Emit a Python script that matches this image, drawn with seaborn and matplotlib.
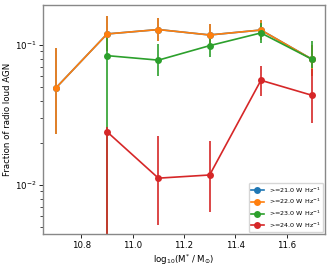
import numpy as np
import pandas as pd
import matplotlib
matplotlib.use("Agg")
import matplotlib.pyplot as plt
import seaborn as sns

mass = [10.7, 10.9, 11.1, 11.3, 11.5, 11.7]
labels = [">=21.0 W Hz$^{-1}$", ">=22.0 W Hz$^{-1}$", ">=23.0 W Hz$^{-1}$", ">=24.0 W Hz$^{-1}$"]

frac_21 = [0.0493, 0.120, 0.129, 0.118, 0.128, 0.079]
lo_21 = [0.023, 0.090, 0.106, 0.100, 0.108, 0.060]
hi_21 = [0.095, 0.161, 0.156, 0.141, 0.151, 0.100]

frac_22 = [0.0493, 0.120, 0.129, 0.118, 0.128, 0.079]
lo_22 = [0.023, 0.090, 0.106, 0.100, 0.108, 0.060]
hi_22 = [0.095, 0.161, 0.156, 0.141, 0.151, 0.100]

frac_23 = [np.nan, 0.084, 0.078, 0.099, 0.122, 0.079]
lo_23 = [np.nan, 0.001, 0.060, 0.0817, 0.104, 0.0686]
hi_23 = [np.nan, 0.125, 0.101, 0.115, 0.143, 0.107]

frac_24 = [np.nan, 0.024, 0.0112, 0.0118, 0.056, 0.0437]
lo_24 = [np.nan, 0.001, 0.00518, 0.00645, 0.0435, 0.0279]
hi_24 = [np.nan, 0.026, 0.0225, 0.0208, 0.0708, 0.0674]

series = [(frac_21, lo_21, hi_21), (frac_22, lo_22, hi_22),
          (frac_23, lo_23, hi_23), (frac_24, lo_24, hi_24)]

rows = []
for lab, (f, lo, hi) in zip(labels, series):
    for m, v, l, h in zip(mass, f, lo, hi):
        rows.append({"mass": m, "frac": v, "lo": l, "hi": h, "sample": lab})
df = pd.DataFrame(rows).dropna()

plt.rcParams["font.family"] = ["DejaVu Sans"]
fig = plt.figure(figsize=(3.32, 2.70), dpi=100)
ax = fig.add_axes([0.1295, 0.1333, 0.8495, 0.848])

palette = sns.color_palette("tab10", 4)
for lab, col in zip(labels, palette):
    d = df[df["sample"] == lab]
    y = d["frac"].values
    ax.errorbar(d["mass"].values, y, yerr=[y - d["lo"].values, d["hi"].values - y],
                color=col, lw=1.2, elinewidth=1.2, capsize=0, fmt="none")
sns.lineplot(data=df, x="mass", y="frac", hue="sample", hue_order=labels,
             palette=palette, marker="o", markersize=5, markeredgewidth=0,
             linewidth=1.2, ax=ax, sort=False, estimator=None)

ax.set_yscale("log")
ax.set_xlim(10.65, 11.75)
ax.set_ylim(0.00447, 0.193)
ax.set_xticks([10.8, 11.0, 11.2, 11.4, 11.6])
ax.set_xticklabels(["10.8", "11.0", "11.2", "11.4", "11.6"])
ax.tick_params(labelsize=6.2, length=3, width=0.6, pad=2)
ax.tick_params(which="minor", length=2, width=0.5)
ax.set_xlabel("log$_{10}$(M$^{*}$ / M$_{\\odot}$)", fontsize=6.2, labelpad=2)
ax.set_ylabel("Fraction of radio loud AGN", fontsize=6.2, labelpad=2)
for s in ax.spines.values():
    s.set_color("#888888")
    s.set_linewidth(1.0)

ax.legend(loc="lower right", fontsize=4.6, frameon=True, handlelength=2,
          borderpad=0.4, labelspacing=0.35, borderaxespad=0.3)

fig.savefig("out.png", dpi=100)
